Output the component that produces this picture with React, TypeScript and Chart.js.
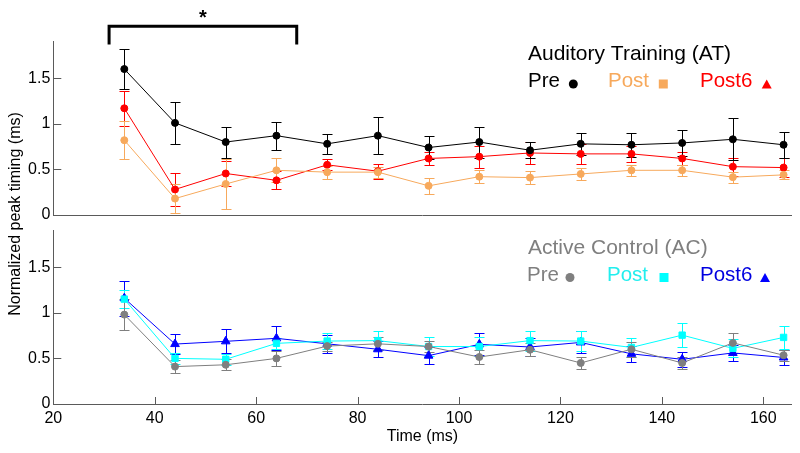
import React, { useEffect, useRef } from 'react';
import { Chart, registerables } from 'chart.js';

Chart.register(...registerables);

// ---------- data ----------
const times = [34, 44, 54, 64, 74, 84, 94, 104, 114, 124, 134, 144, 154, 164];
const xTicks = [20, 40, 60, 80, 100, 120, 140, 160];
const yTicks = [0, 0.5, 1, 1.5];
const xRange = [20, 165.6];
const yRange = [0, 1.9];

const seriesLabels = ['Pre', 'Post', 'Post6'];
const groupTitles = ['Auditory Training (AT)', 'Active Control (AC)'];
const yTitle = 'Normalized peak timing (ms)';
const xTitle = 'Time (ms)';

// Auditory Training (top panel)
const atPre = [1.6, 1.01, 0.8, 0.87, 0.78, 0.87, 0.74, 0.8, 0.71, 0.78, 0.77, 0.79, 0.83, 0.77];
const atPreErr = [0.22, 0.23, 0.17, 0.155, 0.11, 0.2, 0.125, 0.17, 0.09, 0.12, 0.13, 0.14, 0.23, 0.14];
const atPost = [0.82, 0.18, 0.34, 0.49, 0.47, 0.47, 0.32, 0.42, 0.41, 0.45, 0.49, 0.49, 0.415, 0.44];
const atPostErr = [0.21, 0.16, 0.27, 0.13, 0.07, 0.06, 0.09, 0.07, 0.07, 0.07, 0.06, 0.06, 0.06, 0.05];
const atPost6 = [1.17, 0.28, 0.455, 0.38, 0.55, 0.48, 0.62, 0.64, 0.68, 0.67, 0.67, 0.62, 0.53, 0.52];
const atPost6Err = [0.19, 0.18, 0.14, 0.1, 0.06, 0.08, 0.07, 0.12, 0.12, 0.11, 0.09, 0.07, 0.1, 0.1];

// Active Control (bottom panel)
const acPre = [0.98, 0.41, 0.43, 0.5, 0.635, 0.66, 0.63, 0.515, 0.595, 0.45, 0.6, 0.45, 0.67, 0.535];
const acPreErr = [0.17, 0.07, 0.06, 0.08, 0.05, 0.07, 0.06, 0.08, 0.07, 0.07, 0.08, 0.07, 0.11, 0.06];
const acPost = [1.15, 0.5, 0.49, 0.665, 0.69, 0.695, 0.63, 0.63, 0.695, 0.69, 0.62, 0.755, 0.61, 0.73];
const acPostErr = [0.1, 0.06, 0.06, 0.06, 0.09, 0.1, 0.1, 0.1, 0.11, 0.11, 0.1, 0.13, 0.1, 0.13];
const acPost6 = [1.16, 0.657, 0.687, 0.72, 0.66, 0.6, 0.53, 0.654, 0.625, 0.675, 0.55, 0.49, 0.56, 0.51];
const acPost6Err = [0.19, 0.11, 0.13, 0.13, 0.1, 0.09, 0.09, 0.12, 0.1, 0.12, 0.09, 0.08, 0.09, 0.08];

// significance bracket (data coordinates)
const sigFrom = 31;
const sigTo = 68;
const sigTop = 2.07;
const sigLeg = 1.87;
const sigLabel = '*';

// ---------- styles ----------
const FONT = '"Liberation Sans", Arial, sans-serif';
const AXIS_COLOR = '#5a5a5a';
const atColors = ['#000000', '#F7A95C', '#FF0000'];
const acColors = ['#7F7F7F', '#00FFFF', '#0000FF'];
const acTextColors = ['#7F7F7F', '#22EEEE', '#0000E0'];

type Series = { label: string; values: number[]; errors: number[]; color: string; marker: string; radius: number };

function drawMarker(ctx: CanvasRenderingContext2D, kind: string, cx: number, cy: number, size: number) {
  ctx.beginPath();
  if (kind === 'circle') {
    ctx.arc(cx, cy, size / 2, 0, Math.PI * 2);
  } else if (kind === 'rect') {
    ctx.rect(cx - size / 2, cy - size / 2, size, size);
  } else {
    const h = size * 0.9;
    ctx.moveTo(cx, cy - h / 2);
    ctx.lineTo(cx + size / 2, cy + h / 2);
    ctx.lineTo(cx - size / 2, cy + h / 2);
    ctx.closePath();
  }
  ctx.fill();
}

function errorBarPlugin(series: Series[]) {
  return {
    id: 'errbars',
    beforeDatasetsDraw(chart: any) {
      const { ctx } = chart;
      const x = chart.scales.x;
      const y = chart.scales.y;
      for (let s = series.length - 1; s >= 0; s--) {
        const ser = series[s];
        ctx.save();
        ctx.strokeStyle = ser.color;
        ctx.lineWidth = 1;
        ctx.beginPath();
        times.forEach((t, i) => {
          const px = Math.round(x.getPixelForValue(t)) + 0.5;
          const yt = Math.round(y.getPixelForValue(ser.values[i] + ser.errors[i])) + 0.5;
          const yb = Math.round(y.getPixelForValue(ser.values[i] - ser.errors[i])) + 0.5;
          ctx.moveTo(px, yt);
          ctx.lineTo(px, yb);
          ctx.moveTo(px - 5, yt);
          ctx.lineTo(px + 5, yt);
          ctx.moveTo(px - 5, yb);
          ctx.lineTo(px + 5, yb);
        });
        ctx.stroke();
        ctx.restore();
      }
    },
  };
}

function tickMarkPlugin(drawX: boolean) {
  return {
    id: 'tickmarks',
    afterDraw(chart: any) {
      const { ctx, chartArea } = chart;
      const x = chart.scales.x;
      const y = chart.scales.y;
      ctx.save();
      ctx.strokeStyle = AXIS_COLOR;
      ctx.lineWidth = 1;
      ctx.beginPath();
      yTicks.forEach((v) => {
        const py = Math.round(y.getPixelForValue(v)) + 0.5;
        ctx.moveTo(chartArea.left, py);
        ctx.lineTo(chartArea.left + 8, py);
      });
      if (drawX) {
        xTicks.forEach((v) => {
          const px = Math.round(x.getPixelForValue(v)) + 0.5;
          ctx.moveTo(px, chartArea.bottom);
          ctx.lineTo(px, chartArea.bottom - 7);
        });
      }
      ctx.stroke();
      ctx.restore();
    },
  };
}

function legendPlugin(title: string, titleColor: string, textColors: string[], markers: string[], markerColors: string[], pos: any) {
  return {
    id: 'customlegend',
    afterDraw(chart: any) {
      const { ctx } = chart;
      ctx.save();
      ctx.textAlign = 'left';
      ctx.textBaseline = 'alphabetic';
      ctx.font = `21px ${FONT}`;
      ctx.fillStyle = titleColor;
      ctx.fillText(title, pos.titleX, pos.titleY);
      ctx.font = `20.5px ${FONT}`;
      seriesLabels.forEach((lab, i) => {
        ctx.fillStyle = textColors[i];
        ctx.fillText(lab, pos.itemX[i], pos.itemY);
        ctx.fillStyle = markerColors[i];
        drawMarker(ctx, markers[i], pos.markX[i], pos.markY, pos.markSize[i]);
      });
      ctx.restore();
    },
  };
}

const bracketPlugin = {
  id: 'bracket',
  afterDraw(chart: any) {
    const { ctx } = chart;
    const x = chart.scales.x;
    const y = chart.scales.y;
    const x0 = x.getPixelForValue(sigFrom);
    const x1 = x.getPixelForValue(sigTo);
    const yt = y.getPixelForValue(sigTop);
    const yl = y.getPixelForValue(sigLeg);
    ctx.save();
    ctx.strokeStyle = '#000';
    ctx.lineWidth = 3;
    ctx.lineJoin = 'miter';
    ctx.beginPath();
    ctx.moveTo(x0, yl);
    ctx.lineTo(x0, yt);
    ctx.lineTo(x1, yt);
    ctx.lineTo(x1, yl);
    ctx.stroke();
    ctx.fillStyle = '#000';
    ctx.font = `bold 20px ${FONT}`;
    ctx.textAlign = 'center';
    ctx.textBaseline = 'alphabetic';
    ctx.fillText(sigLabel, (x0 + x1) / 2, yt - 2);
    ctx.restore();
  },
};

const yTitlePlugin = {
  id: 'ytitle',
  afterDraw(chart: any) {
    const { ctx } = chart;
    ctx.save();
    ctx.translate(20, 214);
    ctx.rotate(-Math.PI / 2);
    ctx.font = `16px ${FONT}`;
    ctx.fillStyle = '#000';
    ctx.textAlign = 'center';
    ctx.textBaseline = 'alphabetic';
    ctx.fillText(yTitle, 0, 0);
    ctx.restore();
  },
};

function makeConfig(series: Series[], padTop: number, xHeight: number, showX: boolean, extraPlugins: any[]) {
  return {
    type: 'line',
    data: {
      datasets: series.map((s) => ({
        label: s.label,
        data: times.map((t, i) => ({ x: t, y: s.values[i] })),
        borderColor: s.color,
        backgroundColor: s.color,
        borderWidth: 1,
        pointStyle: s.marker,
        pointRadius: s.radius,
        pointBorderWidth: 1,
        pointBorderColor: s.color,
        pointBackgroundColor: s.color,
        tension: 0,
        fill: false,
      })),
    },
    options: {
      animation: false,
      responsive: false,
      devicePixelRatio: 1,
      events: [],
      layout: { padding: { top: padTop, right: 8.3, left: 0, bottom: 0 } },
      plugins: { legend: { display: false }, tooltip: { enabled: false } },
      scales: {
        x: {
          type: 'linear',
          min: xRange[0],
          max: xRange[1],
          afterBuildTicks: (s: any) => {
            s.ticks = xTicks.map((v) => ({ value: v }));
          },
          afterFit: (s: any) => {
            s.height = xHeight;
          },
          grid: { display: true, drawOnChartArea: false, drawTicks: false },
          border: { display: true, color: AXIS_COLOR, width: 1 },
          ticks: {
            display: showX,
            autoSkip: false,
            maxRotation: 0,
            padding: 5,
            color: '#000',
            font: { family: FONT, size: 16 },
            callback: (v: any) => String(v),
          },
          title: {
            display: showX,
            text: xTitle,
            color: '#000',
            font: { family: FONT, size: 16 },
            padding: { top: 0, bottom: 7 },
          },
        },
        y: {
          type: 'linear',
          min: yRange[0],
          max: yRange[1],
          afterBuildTicks: (s: any) => {
            s.ticks = yTicks.map((v) => ({ value: v }));
          },
          afterFit: (s: any) => {
            s.width = 53.3;
          },
          grid: { display: true, drawOnChartArea: false, drawTicks: false },
          border: { display: true, color: AXIS_COLOR, width: 1 },
          ticks: {
            padding: 3,
            color: '#000',
            font: { family: FONT, size: 16 },
            callback: (v: any) => String(v),
          },
        },
      },
    },
    plugins: [errorBarPlugin(series), tickMarkPlugin(showX), ...extraPlugins],
  };
}

export default function App() {
  const topRef = useRef<HTMLCanvasElement>(null);
  const botRef = useRef<HTMLCanvasElement>(null);

  useEffect(() => {
    const atSeries: Series[] = [
      { label: seriesLabels[0], values: atPre, errors: atPreErr, color: atColors[0], marker: 'circle', radius: 3.5 },
      { label: seriesLabels[1], values: atPost, errors: atPostErr, color: atColors[1], marker: 'circle', radius: 3.5 },
      { label: seriesLabels[2], values: atPost6, errors: atPost6Err, color: atColors[2], marker: 'circle', radius: 3.5 },
    ];
    const acSeries: Series[] = [
      { label: seriesLabels[0], values: acPre, errors: acPreErr, color: acColors[0], marker: 'circle', radius: 3.5 },
      { label: seriesLabels[1], values: acPost, errors: acPostErr, color: acColors[1], marker: 'rect', radius: 4.5 },
      { label: seriesLabels[2], values: acPost6, errors: acPost6Err, color: acColors[2], marker: 'triangle', radius: 5 },
    ];
    const topLegend = legendPlugin(groupTitles[0], '#000', atColors, ['circle', 'rect', 'triangle'], atColors, {
      titleX: 528, titleY: 60, itemX: [528, 608, 700], itemY: 87, markX: [573.3, 663.3, 766.7], markY: 84, markSize: [9, 9, 10],
    });
    const botLegend = legendPlugin(groupTitles[1], '#7F7F7F', acTextColors, ['circle', 'rect', 'triangle'], acColors, {
      titleX: 528, titleY: 254, itemX: [527, 607, 700], itemY: 281, markX: [570, 664, 765], markY: 277.5, markSize: [9, 9, 10],
    });
    const c1 = new Chart(topRef.current as HTMLCanvasElement, makeConfig(atSeries, 41.7, 453 - 215, false, [topLegend, bracketPlugin]) as any);
    const c2 = new Chart(botRef.current as HTMLCanvasElement, makeConfig(acSeries, 230.7, 49, true, [botLegend, yTitlePlugin]) as any);
    return () => {
      c1.destroy();
      c2.destroy();
    };
  }, []);

  const cstyle: React.CSSProperties = { position: 'absolute', left: 0, top: 0, width: 800, height: 453 };
  return (
    <div style={{ position: 'absolute', left: 0, top: 0, width: 800, height: 453, background: '#fff' }}>
      <canvas ref={botRef} width={800} height={453} style={cstyle} />
      <canvas ref={topRef} width={800} height={453} style={cstyle} />
    </div>
  );
}
